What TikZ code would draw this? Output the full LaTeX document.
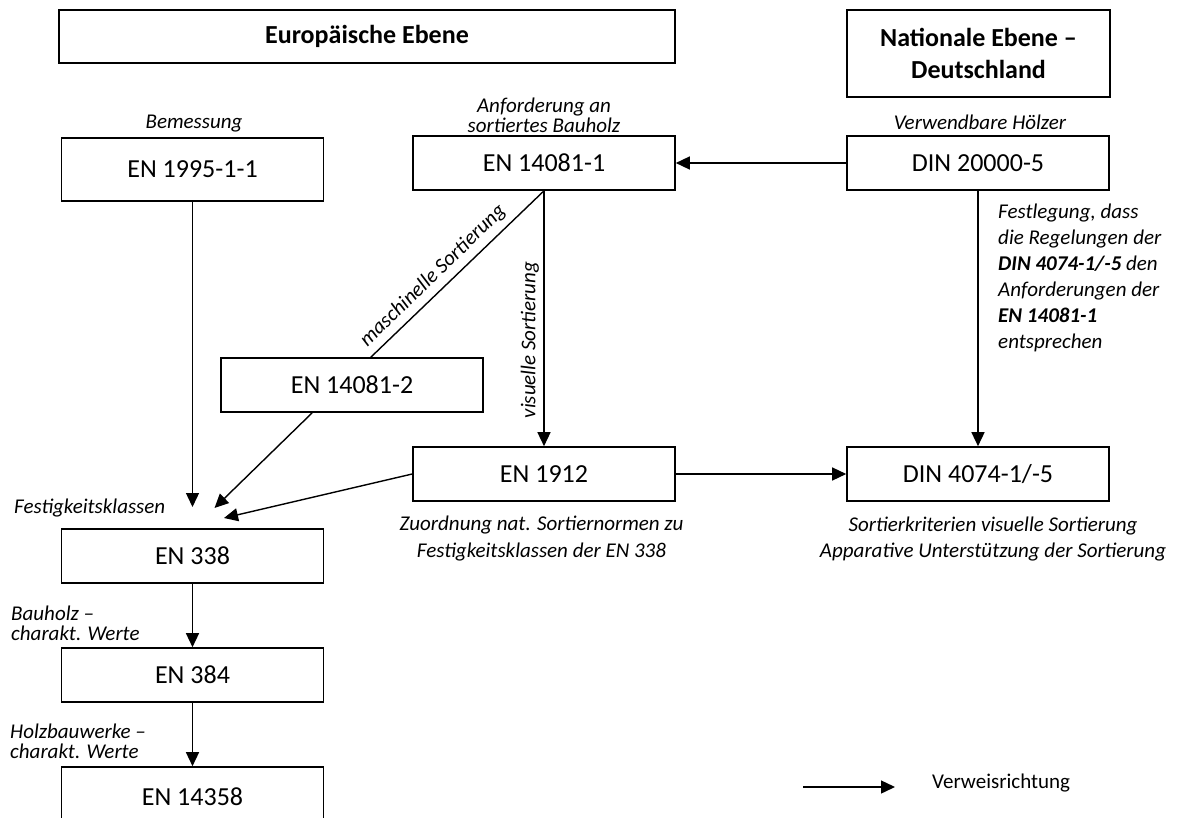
\documentclass[tikz,border=0pt]{standalone}
\usepackage{fontspec}
\setmainfont{Carlito}
\usetikzlibrary{arrows.meta}
\begin{document}
\begin{tikzpicture}[x=1pt,y=-1pt,
  box/.style={draw, line width=1.6pt, minimum width=262pt, minimum height=54pt, inner sep=0pt, align=center, font=\fontsize{26}{31}\selectfont},
  lbl/.style={inner sep=0pt, font=\fontsize{21}{26}\selectfont\itshape},
  conn/.style={line width=1.4pt, -{Triangle[length=14pt,width=13pt]}},
  plainline/.style={line width=1.4pt}]
\useasboundingbox (0,0) rectangle (1177,818);
\clip (0,0) rectangle (1177,818);
% header boxes
\node[box, minimum width=616pt, minimum height=53pt, font=\fontsize{26}{31}\selectfont\bfseries] (euro) at (367,36.5) {Europäische Ebene};
\node[box, minimum width=263pt, minimum height=87pt, font=\fontsize{26}{32}\selectfont\bfseries] (nat) at (978.5,53.5) {Nationale Ebene –\\Deutschland};
% norm boxes
\node[box, minimum height=63pt] (en1995) at (192.5,169.5) {EN 1995-1-1};
\node[box] (en140811) at (544,163) {EN 14081-1};
\node[box] (din20000) at (978,163) {DIN 20000-5};
\node[box] (en140812) at (352,385) {EN 14081-2};
\node[box] (en1912) at (544,474) {EN 1912};
\node[box] (din4074) at (978,474) {DIN 4074-1/-5};
\node[box] (en338) at (192.5,556) {EN 338};
\node[box] (en384) at (192.5,675) {EN 384};
\node[box, minimum height=60pt] (en14358) at (192.5,797) {EN 14358};
% labels
\node[lbl] (lbem) at (194,124) {Bemessung};
\node[lbl, align=center, font=\fontsize{21}{20}\selectfont\itshape] (lanf) at (544,115) {Anforderung an\\sortiertes Bauholz};
\node[lbl] (lverw) at (980,122) {Verwendbare Hölzer};
\node[lbl, rotate=44.2] (lmasch) at (433,276) {maschinelle Sortierung};
\node[lbl, rotate=90] (lvis) at (530,340) {visuelle Sortierung};
\node[lbl, align=left, anchor=west] (lfest) at (998,278) {Festlegung, dass\\die Regelungen der\\\textbf{DIN 4074-1/-5} den\\Anforderungen der\\\textbf{EN 14081-1}\\entsprechen};
\node[lbl, align=center, font=\fontsize{21}{27}\selectfont\itshape] (lzuo) at (541.5,538.5) {Zuordnung nat. Sortiernormen zu\\Festigkeitsklassen der EN 338};
\node[lbl, align=center] (lsort) at (993,539) {Sortierkriterien visuelle Sortierung\\Apparative Unterstützung der Sortierung};
\node[lbl, anchor=west] (lfk) at (14,508) {Festigkeitsklassen};
\node[lbl, align=left, anchor=west, font=\fontsize{21}{20}\selectfont\itshape] (lbau) at (11,623) {Bauholz –\\charakt. Werte};
\node[lbl, align=left, anchor=west, font=\fontsize{21}{19.5}\selectfont\itshape] (lholz) at (10,741.5) {Holzbauwerke –\\charakt. Werte};
% free ends
\coordinate (t1) at (192.5,507);
\coordinate (t2) at (214.5,508);
\coordinate (t3) at (224,518);
\coordinate (m2) at (370,358);
% connectors
\draw[conn] (din20000.west) -- (en140811.east);
\draw[conn] (en1995.south) -- (t1);
\draw[plainline] (en140811.south) -- (m2);
\draw[conn] ([xshift=92pt]en140812.south west) -- (t2);
\draw[conn] (en140811.south) -- (en1912.north);
\draw[conn] (en1912.west) -- (t3);
\draw[conn] (en1912.east) -- (din4074.west);
\draw[conn] (din20000.south) -- (din4074.north);
\draw[conn] (en338.south) -- (en384.north);
\draw[conn] (en384.south) -- (en14358.north);
% legend
\coordinate (la) at (803,787);
\coordinate (lb) at (895,787);
\draw[conn] (la) -- (lb);
\node[anchor=west, inner sep=0pt, font=\fontsize{21}{26}\selectfont] (lleg) at (932,783) {Verweisrichtung};
\end{tikzpicture}
\end{document}
